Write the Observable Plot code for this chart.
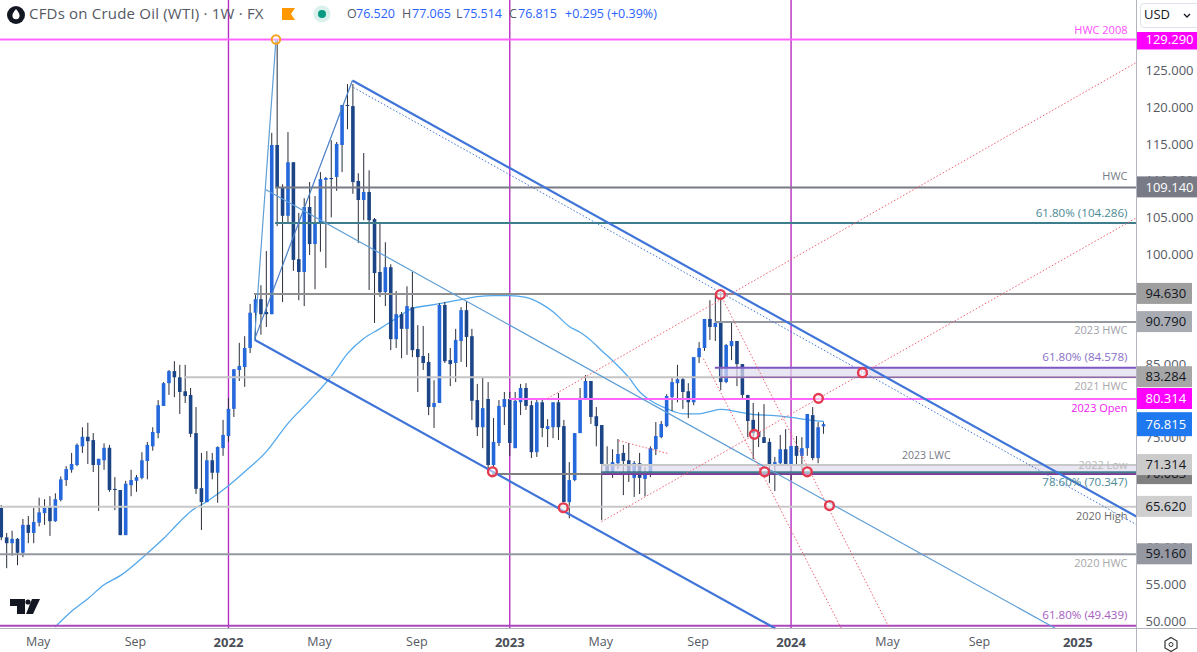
<!DOCTYPE html>
<html><head><meta charset="utf-8">
<script src="https://cdn.jsdelivr.net/npm/d3@7"></script>
<script src="https://cdn.jsdelivr.net/npm/@observablehq/plot@0.6"></script>
<style>
html,body{margin:0;padding:0;background:#fff;overflow:hidden}
#wrap{position:relative;width:1197px;height:652px;font-family:"Open Sans",sans-serif}
.o{position:absolute;white-space:nowrap;line-height:1}
</style></head><body><div id="wrap"></div>
<script>
const firstWeek = "2021-03-15";
const opens = [
65.4,61.4,60.6,61.2,59.3,63.1,62.0,63.4,64.7,65.5,
63.6,66.5,69.2,70.6,71.25,73.8,75.1,74.65,71.25,71.9,
73.6,68.0,67.85,61.7,68.5,69.1,69.5,71.8,73.8,75.6,
79.3,82.4,84.05,83.2,81.3,80.8,75.6,68.1,66.2,71.9,
70.2,73.55,
75.2,78.9,84.2,84.6,87.2,92.0,93.85,92.1,91.8,114.85,
109.1,105.2,112.5,99.3,97.55,106.4,101.35,104.1,110.1,110.35,
110.5,114.85,120.3,120.15,109.95,107.35,108.45,104.75,97.55,94.8,
98.2,88.4,91.8,89.8,92.75,87.05,86.1,85.3,79.15,79.7,
93.05,85.55,85.15,88.15,92.35,88.8,80.1,76.4,80.25,71.25,
74.25,79.15,80.25,73.55,79.8,81.75,79.4,73.0,79.8,76.15,
76.4,79.8,76.55,66.2,69.2,75.6,80.25,82.7,77.9,76.7,
71.25,70.15,71.5,72.9,71.9,69.5,71.5,69.35,70.0,73.4,
75.05,76.55,80.5,82.4,82.95,81.3,79.8,85.95,87.2,91.15,
90.05,90.6,82.55,87.45,88.15,85.0,80.8,77.4,75.75,75.05,
74.4,71.4,71.5,73.4,71.4,73.85,72.5,73.55,78.05,72.2,
76.52];
const highs = [
65.8,62.0,62.3,61.3,63.9,64.3,65.4,66.8,66.6,67.0,
67.4,69.7,71.1,72.9,74.2,76.4,77.0,75.6,72.1,74.2,
74.0,69.6,67.85,69.1,70.6,69.9,73.0,74.4,76.4,80.1,
82.55,84.2,85.4,84.9,84.9,81.75,79.15,72.9,73.15,72.9,
73.8,77.4,
80.4,84.3,87.9,88.8,93.2,94.4,95.75,100.4,116.5,129.29,
109.5,116.6,112.5,105.6,107.6,109.8,107.9,111.15,110.5,115.5,
115.25,120.3,123.15,123.15,111.0,113.75,111.4,104.9,104.1,101.6,
98.6,94.95,92.1,95.6,97.55,90.3,90.2,86.5,82.8,93.3,
93.45,87.2,89.8,92.75,93.6,89.8,82.3,83.2,82.55,77.65,
80.1,81.2,81.2,81.2,82.3,82.4,80.0,80.25,80.4,77.5,
79.8,81.05,77.4,71.65,75.6,81.75,83.5,82.7,79.15,76.7,
73.8,73.4,74.8,74.0,74.25,71.8,72.9,71.0,73.8,77.1,
77.25,80.9,83.2,84.9,83.1,82.4,85.95,88.0,91.15,93.7,
94.7,94.7,87.75,90.6,88.15,85.0,80.8,79.7,78.45,79.55,
74.9,72.35,75.35,76.15,73.85,75.2,75.05,78.2,79.15,77.1,
77.065];
const lows = [
61.0,57.2,58.9,57.6,58.7,60.6,60.6,62.9,63.1,61.6,
63.5,66.3,68.4,70.2,71.1,72.9,71.4,70.3,65.0,70.6,
67.6,65.1,61.7,61.7,67.0,67.6,69.3,69.3,73.2,74.9,
79.3,80.8,80.5,78.2,79.7,75.05,67.3,62.4,66.2,69.3,
66.1,72.5,
74.4,77.8,82.7,81.9,86.5,88.4,89.0,90.05,91.8,103.8,
93.45,104.1,97.7,93.7,92.9,99.85,95.2,100.3,98.1,105.0,
108.6,111.15,117.0,108.2,101.5,104.6,95.1,90.6,94.15,92.9,
86.9,87.2,85.8,86.25,85.95,81.2,84.2,78.05,76.3,79.7,
85.15,82.0,82.55,85.3,84.6,77.4,75.2,73.55,70.6,71.0,
73.85,76.7,72.5,73.55,78.05,78.75,72.2,72.35,75.05,73.7,
74.9,74.65,66.2,64.0,69.05,75.6,80.25,76.85,73.8,63.75,
69.9,69.5,70.7,67.15,68.95,66.9,67.3,67.0,69.6,72.6,
74.9,76.4,78.6,79.8,78.9,77.65,79.4,85.15,86.8,88.3,
88.15,81.45,82.4,85.55,82.0,80.25,75.05,72.05,73.7,74.25,
68.8,67.7,71.25,71.25,69.2,71.25,70.6,72.5,71.9,71.5,
75.514];
const closes = [
61.4,60.6,61.2,59.3,63.1,62.0,63.5,64.8,65.4,63.6,
66.6,69.3,70.7,71.4,74.0,75.1,74.5,71.25,72.1,73.6,
67.85,67.85,61.7,68.7,69.2,69.6,71.9,74.0,75.75,79.4,
82.4,84.05,83.2,81.2,80.65,75.5,68.0,66.2,71.9,70.2,
73.7,75.35,
78.9,84.3,84.75,87.2,92.0,93.85,91.8,91.8,114.85,109.1,
105.2,112.5,99.2,97.55,106.4,101.35,104.1,110.2,110.35,110.2,
115.0,120.3,120.15,109.8,107.35,108.45,104.6,97.4,94.8,98.2,
88.4,91.8,89.8,92.9,86.9,85.95,85.15,79.15,79.7,93.05,
85.4,85.0,88.3,92.35,88.7,80.0,76.4,79.0,71.25,74.4,
79.3,80.25,74.25,80.0,81.75,79.3,73.0,79.8,76.3,76.55,
79.8,76.4,66.2,69.2,75.6,80.4,82.7,77.8,76.55,71.4,
70.3,71.65,72.75,71.8,70.15,71.5,69.5,70.0,73.55,75.2,
76.85,80.65,82.55,82.95,81.2,79.8,85.95,87.2,91.15,90.05,
90.6,82.55,87.6,88.15,85.0,80.8,77.25,75.6,75.05,74.25,
71.25,71.65,73.4,71.4,73.85,72.5,73.55,78.2,72.2,76.4,
76.815];

// moving average: [weeks since 2022-01-03, price]
const maWeeks = [-32,-29,-26,-23,-20,-15,-12,-9,-7,-4,0,3,7,11,15,19,22,25,28,31,34,37,40,43,46,49,52,55,58,60,63,65,67,69,71,74,76,78,81,84,87,89,91,94,97,101,104,108,110];
const maValues = [49.3,51.4,53.1,55.0,56.25,59.3,61.3,63.6,65.0,66.35,68.5,70.4,73.15,77.0,80.1,83.4,86.5,88.55,89.9,91.3,92.65,93.05,93.45,93.85,94.25,94.4,94.4,94.15,93.2,92.2,90.2,89.4,88.3,86.9,85.55,83.25,81.3,80.1,79.0,78.3,78.3,78.6,78.9,78.6,78.2,78.05,77.8,77.4,77.25];

// trend lines: [week, price, week, price]
const thickLines = [[22.92,123.7,167.84,64.3],[4.81,88.4,101.1,49.05]];
const darkThinLines = [[4.81,88.4,22.92,123.7]];
const thinLines = [[6.84,108.85,152.9,49.05],[4.81,88.4,8.78,129.29]];
const blueDotted = [[23.1,122.75,167.84,63.2]];
const redDotted = [[58.96,80.38,167.84,126.15],[68.95,63.6,167.84,105.0],[72.1,74.65,81.15,72.9],[90.94,94.55,122.2,49.05],[87.8,85.8,113.3,49.05]];

const redCircleWeeks = [90.94,117.2,109.06,97.2,99.1,107.0,111.1,48.8,61.9];
const redCirclePrices = [94.55,83.9,80.4,75.5,70.4,70.4,65.8,70.4,65.5];
const orangeCircle = [8.78,129.29];

// horizontal levels: price, first week, colour
const levelValues = [129.29,109.14,104.286,94.63,90.79,83.284,80.314,71.314,70.083,65.62,59.16,49.439];
const levelStarts = [-43,8.7,8.7,4.8,90,-8.1,52,69,48.8,-43,-43,-43];
const levelColors = ["#ff66ff","#787b86","#3d7d8c","#8f8f8f","#9598a1","#c4c4c4","#ff66ff","#c8c8c8","#808080","#c8c8c8","#9598a1","#ab47bc"];

const bandTops = [84.578,71.314];
const bandBottoms = [83.284,70.347];
const bandStarts = [90.94,69];
const overLevels = [[84.578,90,"#7e57c2",2],[83.284,90.94,"#7b3fa0",1],[70.347,69,"#3d7d8c",2],[70.083,69,"#7b1fa2",1.2]];

const verticalDates = ["2022-01-03","2023-01-02","2024-01-01"];
const monthTicks = ["2021-05-03","2021-09-06","2022-05-02","2022-09-05","2023-05-01","2023-09-04","2024-05-06","2024-09-02"];
const yearTicks = ["2022-01-03","2023-01-02","2024-01-01","2025-01-06"];
const yTicks = [50,55,60,70,75,85,100,105,110,115,120,125];

// text, price, shift from the level, colour
const inlineLabels = [
 ["HWC 2008",129.29,-9.5,"#ff4dff"],["HWC",109.14,-10.5,"#787b86"],["61.80% (104.286)",104.286,-9.5,"#4c8a96"],
 ["2023 HWC",90.79,8.5,"#a0a2aa"],["61.80% (84.578)",84.578,-10,"#8a6fc8"],["2021 HWC",83.284,9.5,"#a8a8a8"],
 ["2023 Open",80.314,9.5,"#f020f0"],["2022 Low",71.314,0.5,"#b8b8b8"],["78.60% (70.347)",70.347,10.5,"#4c8a96"],
 ["2020 High",65.62,9.5,"#6a6a6a"],["2020 HWC",59.16,9,"#a8a8a8"],["61.80% (49.439)",49.439,-10,"#a85cc0"]];

// price boxes in the right scale: price, fill, text colour, width, half height
const boxes = [[129.29,"#ff00ff","#fff",61,10.5],[109.14,"#787b86","#fff",61,10.5],[94.63,"#9e9e9e","#131722",56,10.5],[90.79,"#a9abb3","#131722",56,10.5],[83.284,"#a6a6a6","#131722",56,10.5],[80.314,"#ff00ff","#fff",56,10.5],[76.815,"#1e78f0","#fff",56,12],[70.083,"#808080","#131722",56,10.5],[71.314,"#cbcbcb","#131722",56,10.5],[65.62,"#cfcfcf","#131722",56,10.5],[59.16,"#9598a1","#131722",56,10.5]];

const week0 = new Date("2022-01-03");
const at = w => new Date(+week0 + w*7*864e5);
const weekDate = i => d3.utcDay.offset(new Date(firstWeek), 7*i);
const candles = opens.map((o,i)=>({date:weekDate(i),o,h:highs[i],l:lows[i],c:closes[i]}));
const ma = maWeeks.map((w,i)=>({d:at(w),p:maValues[i]}));
const segs = a => a.map(s=>({x1:at(s[0]),y1:s[1],x2:at(s[2]),y2:s[3]}));
const xStart = new Date("2021-03-14"), xEnd = new Date("2025-03-23");
const lv = levelValues.map((v,i)=>({v,s:levelStarts[i]<-42?xStart:at(levelStarts[i]),c:levelColors[i]}));
const link = (a,o)=>Plot.link(segs(a),{x1:"x1",y1:"y1",x2:"x2",y2:"y2",...o});
const pxPerPrice = 628/(134.6-49.05);

const chart = Plot.plot({
  width:1197,height:652,marginTop:0,marginBottom:24,marginLeft:0,marginRight:61,
  style:{fontFamily:'"Open Sans",sans-serif',fontSize:"13px",background:"transparent"},
  x:{type:"utc",domain:[xStart,xEnd],axis:null},
  y:{type:"linear",domain:[49.05,134.6],axis:null},
  marks:[
    Plot.ruleX(verticalDates.map(d=>new Date(d)),{stroke:"#b92bc4",strokeWidth:1.4}),
    Plot.line(ma,{x:"d",y:"p",stroke:"#53a8ec",strokeWidth:1.3,curve:"monotone-x"}),
    Plot.ruleX(candles,{x:"date",y1:"l",y2:"h",stroke:"#2a2e39",strokeWidth:1}),
    Plot.ruleX(candles,{x:"date",y1:"o",y2:"c",stroke:d=>d.c>=d.o?"#2468dc":"#1c4587",strokeWidth:3.6}),
    Plot.rect(bandTops.map((t,i)=>({t,b:bandBottoms[i],s:at(bandStarts[i])})),{x1:"s",x2:()=>xEnd,y1:"b",y2:"t",fill:"#e1dcf0",fillOpacity:0.72}),
    Plot.ruleY(lv,{y:"v",x1:"s",x2:()=>xEnd,stroke:"c",strokeWidth:2}),
    ...overLevels.map(l=>Plot.ruleY([l[0]],{x1:at(l[1]),x2:xEnd,stroke:l[2],strokeWidth:l[3]})),
    link(thickLines,{stroke:"#3f74d8",strokeWidth:2.2}),
    link(darkThinLines,{stroke:"#4a7fc4",strokeWidth:1.2}),
    link(thinLines,{stroke:"#5f9fd6",strokeWidth:1.2}),
    link(blueDotted,{stroke:"#3f74d8",strokeWidth:1,strokeDasharray:"1.5 2"}),
    link(redDotted,{stroke:"#ef6070",strokeWidth:1,strokeDasharray:"1.5 2"}),
    Plot.dot(redCircleWeeks.map((w,i)=>({d:at(w),p:redCirclePrices[i]})),{x:"d",y:"p",r:4.4,stroke:"#e53950",strokeWidth:2.4,fill:"#fff",fillOpacity:0.5}),
    Plot.dot([{d:at(orangeCircle[0]),p:orangeCircle[1]}],{x:"d",y:"p",r:4.2,stroke:"#f7a11f",strokeWidth:2,fill:"#fff",fillOpacity:0.4}),
    Plot.text(inlineLabels,{x:()=>xEnd,y:l=>l[1]-l[2]/pxPerPrice,text:l=>l[0],dx:-9,textAnchor:"end",fill:l=>l[3],fontSize:l=>l[0].includes("%")?11.6:11}),
    Plot.text(["2023 LWC"],{x:at(129),y:72.1,dy:-4,textAnchor:"middle",fill:"#787b86",fontSize:10.5}),
    Plot.axisX(monthTicks.map(d=>new Date(d)),{anchor:"bottom",tickSize:0,tickPadding:9,dx:-1,tickFormat:d3.utcFormat("%b"),fontSize:12.5,color:"#555963",label:null}),
    Plot.axisX(yearTicks.map(d=>new Date(d)),{anchor:"bottom",tickSize:0,tickPadding:9,tickFormat:d3.utcFormat("%Y"),fontSize:13,fontWeight:"bold",color:"#4a4e58",label:null}),
    Plot.axisY(yTicks,{anchor:"right",tickSize:0,tickPadding:9,tickFormat:d=>d.toFixed(3),fontSize:13,color:"#555963",label:null}),
    ...boxes.flatMap(b=>[
      Plot.rect([b[0]],{x1:()=>xEnd,x2:()=>xEnd,y1:d=>d,y2:d=>d,insetRight:-b[3],insetTop:-b[4],insetBottom:-b[4],fill:b[1]}),
      Plot.text([b[0]],{x:()=>xEnd,y:d=>d,text:d=>d.toFixed(3),dx:9,textAnchor:"start",fill:b[2],fontSize:13})
    ])
  ]
});
const wrap=document.getElementById("wrap");
wrap.appendChild(chart);
chart.style.position="absolute";chart.style.left="0";chart.style.top="0";

// chart chrome drawn around the plot
const html=`
<div class="o" style="left:1136px;top:0;width:61px;height:32px;background:#fff"></div>
<div class="o" style="left:1135.5px;top:0;width:1px;height:652px;background:#b2b5be"></div>
<div class="o" style="left:0;top:628px;width:1197px;height:1px;background:#b2b5be"></div>
<div class="o" style="left:1140px;top:3px;width:62px;height:23px;border:1px solid #e0e3eb;border-radius:4px;background:#fff"></div>
<div class="o" style="left:1144px;top:8px;font-size:13px;color:#131722">USD</div>
<svg class="o" style="left:0;top:0" width="300" height="30"><circle cx="16" cy="15" r="9" fill="#131722"/><path d="M16 9c2.4 3 3.6 4.8 3.6 6.6a3.6 3.6 0 0 1-7.2 0C12.4 13.800 13.600 12 16 9z" fill="#fff"/><path d="M282 8h13l-4 6 4 6h-13z" fill="#ff9800"/></svg>
<svg class="o" style="left:312px;top:0" width="20" height="30"><circle cx="10" cy="14" r="8.500" fill="#d9f0ec"/><circle cx="10" cy="14" r="4" fill="#089981"/></svg>
<svg class="o" style="left:1180px;top:4px" width="12" height="20"><path d="M4 10l3 3 3-3" fill="none" stroke="#131722" stroke-width="1.300"/></svg>
<svg class="o" style="left:1162px;top:636px" width="18" height="16"><path d="M9 1.500l6 3.500v7l-6 3.500-6-3.500v-7z" fill="none" stroke="#333" stroke-width="1.200"/><circle cx="9" cy="8.500" r="2" fill="none" stroke="#333"/></svg>
<svg class="o" style="left:0;top:590px" width="50" height="30"><path d="M10 9h15v15h-8v-8h-7z M32 9h8l-7 15h-7z" fill="#131722"/><circle cx="28" cy="12" r="2.600" fill="#131722"/></svg>
<div class="o" style="left:29px;top:6px;font-size:15px;letter-spacing:.2px;color:#555963">CFDs on Crude Oil (WTI) · 1W · FX</div>`+
[["O",347,"76.520",356],["H",402,"77.065",412],["L",456,"75.514",463],["C",509,"76.815",518]].map(a=>
`<div class="o" style="left:${a[1]}px;top:8px;font-size:12.500px;color:#555963">${a[0]}</div><div class="o" style="left:${a[3]}px;top:8px;font-size:12.500px;color:#2962ff">${a[2]}</div>`).join("")+
`<div class="o" style="left:565px;top:8px;font-size:12.500px;color:#2962ff">+0.295 (+0.39%)</div>`;
wrap.insertAdjacentHTML("beforeend",html);
</script></body></html>
